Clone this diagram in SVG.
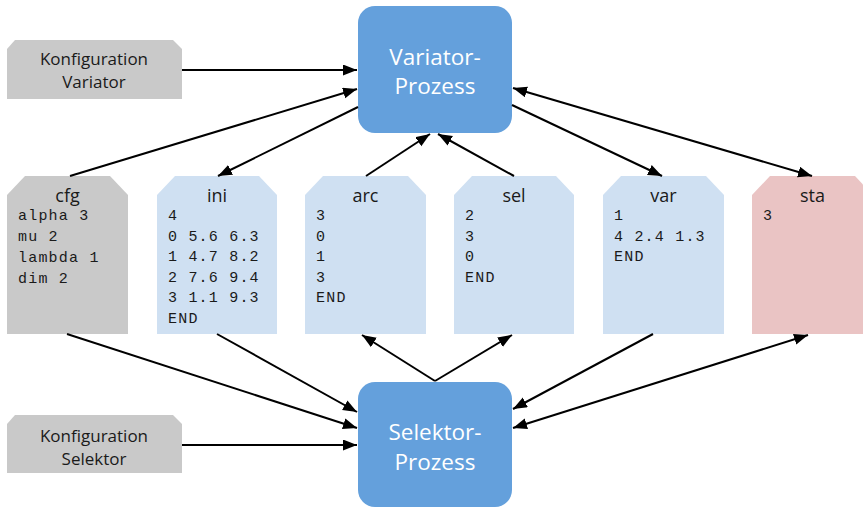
<svg xmlns="http://www.w3.org/2000/svg" width="863" height="510" viewBox="0 0 863 510">
  <defs>
    <marker id="arrow" markerUnits="userSpaceOnUse" markerWidth="15" markerHeight="12" refX="14" refY="5.5" orient="auto-start-reverse">
      <path d="M0,0 L14,5.5 L0,11 z" fill="#000"/>
    </marker>
    <style>
      .cfgbox { fill: #c9c9c9; }
      .file { fill: #cfe0f2; }
      .stat { fill: #eac4c4; }
      .proc { fill: #64a0dc; }
      .lbl { font-family: "Open Sans", "Liberation Sans", sans-serif; font-size: 17px; fill: #1a1a1a; text-anchor: middle; }
      .title { font-family: "Open Sans", "Liberation Sans", sans-serif; font-size: 18px; fill: #1a1a1a; text-anchor: middle; }
      .ptext { font-family: "Open Sans", "Liberation Sans", sans-serif; font-size: 22.5px; fill: #ffffff; text-anchor: middle; }
      .mono { font-family: "Liberation Mono", "DejaVu Sans Mono", monospace; font-size: 15px; letter-spacing: 1.2px; fill: #1a1a1a; }
      .edge { stroke: #000; stroke-width: 2; fill: none; }
    </style>
  </defs>

  <!-- configuration inputs -->
  <g id="konfig-variator">
    <polygon class="cfgbox" points="7,49 15,40 173,40 182,49 182,99 7,99"/>
    <text class="lbl" x="94" y="65">Konfiguration</text>
    <text class="lbl" x="94" y="88">Variator</text>
  </g>
  <g id="konfig-selektor">
    <polygon class="cfgbox" points="7,424 15,415 173,415 182,424 182,473 7,473"/>
    <text class="lbl" x="94" y="442">Konfiguration</text>
    <text class="lbl" x="94" y="465">Selektor</text>
  </g>

  <!-- processes -->
  <g id="variator-prozess">
    <rect class="proc" x="358" y="6" width="154" height="127" rx="17"/>
    <text class="ptext" x="435" y="65">Variator-</text>
    <text class="ptext" x="435" y="94">Prozess</text>
  </g>
  <g id="selektor-prozess">
    <rect class="proc" x="358" y="382" width="154" height="125" rx="17"/>
    <text class="ptext" x="435" y="440">Selektor-</text>
    <text class="ptext" x="435" y="470">Prozess</text>
  </g>

  <!-- data files -->
  <g id="cfg">
    <polygon class="cfgbox" points="7,195 25,176 110,176 128,195 128,334 7,334"/>
    <text class="title" x="67.5" y="202">cfg</text>
    <text class="mono" x="18" y="220">alpha 3</text>
    <text class="mono" x="18" y="241">mu 2</text>
    <text class="mono" x="18" y="262">lambda 1</text>
    <text class="mono" x="18" y="283">dim 2</text>
  </g>
  <g id="ini">
    <polygon class="file" points="157,195 175,176 259,176 277,195 277,334 157,334"/>
    <text class="title" x="217" y="202">ini</text>
    <text class="mono" x="168" y="220">4</text>
    <text class="mono" x="168" y="241">0 5.6 6.3</text>
    <text class="mono" x="168" y="261">1 4.7 8.2</text>
    <text class="mono" x="168" y="282">2 7.6 9.4</text>
    <text class="mono" x="168" y="302">3 1.1 9.3</text>
    <text class="mono" x="168" y="323">END</text>
  </g>
  <g id="arc">
    <polygon class="file" points="305,195 323,176 408,176 426,195 426,334 305,334"/>
    <text class="title" x="365.5" y="202">arc</text>
    <text class="mono" x="316" y="220">3</text>
    <text class="mono" x="316" y="241">0</text>
    <text class="mono" x="316" y="261">1</text>
    <text class="mono" x="316" y="282">3</text>
    <text class="mono" x="316" y="302">END</text>
  </g>
  <g id="sel">
    <polygon class="file" points="454,195 472,176 556,176 574,195 574,334 454,334"/>
    <text class="title" x="514" y="202">sel</text>
    <text class="mono" x="465" y="220">2</text>
    <text class="mono" x="465" y="241">3</text>
    <text class="mono" x="465" y="261">0</text>
    <text class="mono" x="465" y="282">END</text>
  </g>
  <g id="var">
    <polygon class="file" points="603,195 621,176 706,176 724,195 724,334 603,334"/>
    <text class="title" x="663.5" y="202">var</text>
    <text class="mono" x="614" y="220">1</text>
    <text class="mono" x="614" y="241">4 2.4 1.3</text>
    <text class="mono" x="614" y="261">END</text>
  </g>
  <g id="sta">
    <polygon class="stat" points="752,195 770,176 855,176 873,195 873,334 752,334"/>
    <text class="title" x="812.5" y="202">sta</text>
    <text class="mono" x="763" y="220">3</text>
  </g>

  <!-- connectors -->
  <g id="connectors">
    <line class="edge" x1="182" y1="70" x2="357" y2="70" marker-end="url(#arrow)"/>
    <line class="edge" x1="70" y1="176" x2="357" y2="89" marker-end="url(#arrow)"/>
    <line class="edge" x1="358" y1="107" x2="218" y2="176" marker-end="url(#arrow)"/>
    <line class="edge" x1="366" y1="176" x2="430" y2="134" marker-end="url(#arrow)"/>
    <line class="edge" x1="514" y1="176" x2="438" y2="134" marker-end="url(#arrow)"/>
    <line class="edge" x1="512" y1="105" x2="662" y2="176" marker-end="url(#arrow)"/>
    <line class="edge" x1="513" y1="88" x2="812" y2="176" marker-start="url(#arrow)" marker-end="url(#arrow)"/>

    <line class="edge" x1="67" y1="334" x2="357" y2="428" marker-end="url(#arrow)"/>
    <line class="edge" x1="217" y1="334" x2="357" y2="412" marker-end="url(#arrow)"/>
    <line class="edge" x1="182" y1="445" x2="357" y2="445" marker-end="url(#arrow)"/>
    <line class="edge" x1="435" y1="381" x2="362" y2="335" marker-end="url(#arrow)"/>
    <line class="edge" x1="435" y1="381" x2="512" y2="335" marker-end="url(#arrow)"/>
    <line class="edge" x1="653" y1="334" x2="513" y2="409" marker-end="url(#arrow)"/>
    <line class="edge" x1="808" y1="335" x2="513" y2="428" marker-start="url(#arrow)" marker-end="url(#arrow)"/>
  </g>
</svg>
